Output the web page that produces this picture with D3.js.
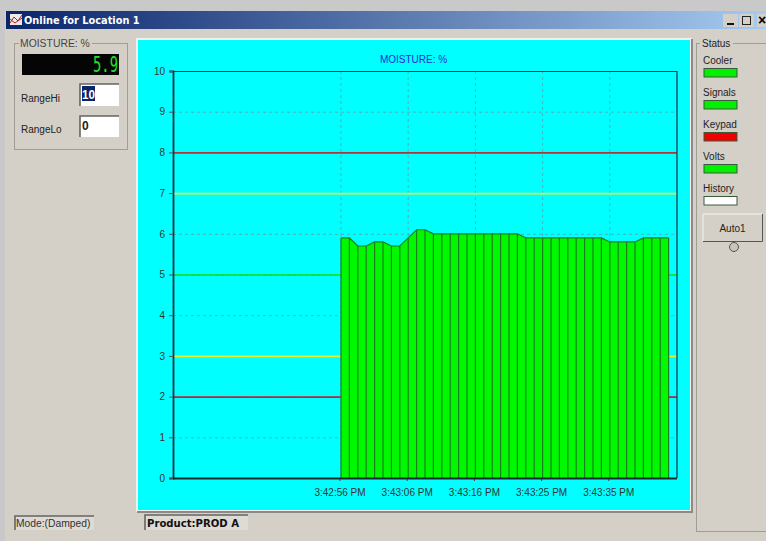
<!DOCTYPE html>
<html><head><meta charset="utf-8">
<script src="https://cdn.jsdelivr.net/npm/d3@7"></script>
<style>
html,body{margin:0;padding:0;background:#d4d0c8;overflow:hidden}
svg{display:block}
text{font-family:"Liberation Sans",Arial,sans-serif}
</style></head><body>
<svg id="c" width="766" height="541"></svg>
<script>
const moisture=[5.9,5.9,5.7,5.7,5.8,5.8,5.7,5.7,5.9,6.1,6.1,6.0,6.0,6.0,6.0,6.0,6.0,6.0,6.0,6.0,6.0,6.0,5.9,5.9,5.9,5.9,5.9,5.9,5.9,5.9,5.9,5.9,5.8,5.8,5.8,5.8,5.9,5.9,5.9,5.9];
const sampleIndex=moisture.map((d,i)=>i);
const timeTickIdx=[0,8,16,24,32];
const timeLabels=["3:42:56 PM","3:43:06 PM","3:43:16 PM","3:43:25 PM","3:43:35 PM"];
const yTicks=[0,1,2,3,4,5,6,7,8,9,10];
const limitValues=[8,7,5,3,2];
const limitColors=["#a83a3a","#d8f448","#10dc10","#e8f028","#c42038"];
const statusNames=["Cooler","Signals","Keypad","Volts","History"];
const statusColors=["#00f000","#00f000","#f00000","#00f000","#ffffff"];

const svg=d3.select("#c");
const defs=svg.append("defs");
const g=defs.append("linearGradient").attr("id","tb");
g.append("stop").attr("offset","0").attr("stop-color","#0a246a");
g.append("stop").attr("offset","1").attr("stop-color","#a6caf0");

function rect(x,y,w,h,f,s){return svg.append("rect").attr("x",x).attr("y",y).attr("width",w).attr("height",h).attr("fill",f).attr("stroke",s||"none");}
function txt(x,y,t,size,col,anchor,extra){const e=svg.append("text").attr("x",x).attr("y",y).attr("font-size",size).attr("fill",col).attr("text-anchor",anchor||"start").text(t);if(extra)extra(e);return e;}
function sunken(x,y,w,h,f){rect(x,y,w,h,f);
  svg.append("path").attr("d",`M${x},${y+h}V${y}H${x+w}`).attr("fill","none").attr("stroke","#666460").attr("stroke-width",1.6);}

// window chrome
rect(0,0,766,11,"#c9c9c9");
rect(0,11,5,530,"#c9c9c9");
rect(5,11,761,530,"#d4d0c8");
rect(6,11,760,18,"url(#tb)");
txt(24,24,"Online for Location 1",9.8,"#fff","start",e=>e.attr("font-weight","bold").style("font-family","'DejaVu Sans'"));
rect(10,14,12,11,"#eee8e8");
svg.append("path").attr("d","M10,23L14,17L18,21L22,15M10,19L15,23L22,18").attr("stroke","#b02020").attr("fill","none");
// window buttons
rect(723,14,15,13,"#d4d0c8");
rect(739,14,15,13,"#d4d0c8");
rect(757,14,9,13,"#d4d0c8");
rect(727,23,7,2,"#111");
rect(742.5,16.5,8,8,"none","#222");
txt(762,25,"×",14,"#000","middle",e=>e.attr("font-weight","bold"));

// left panel
rect(14.5,43.5,113,106,"none","#a09d97");
rect(19,38,73,10,"#d4d0c8");
txt(20,47,"MOISTURE: %",10.4,"#444");
rect(22,54,97,21,"#050505");
txt(93,72,"5.9",22,"#24e024","start",e=>e.style("font-family","'DejaVu Sans Mono'").attr("textLength",25).attr("lengthAdjust","spacingAndGlyphs"));
txt(21,102,"RangeHi",10,"#222");
txt(21,133,"RangeLo",10,"#222");
sunken(80,84,39,22,"#fff");
rect(82,86,13,15,"#0a246a");
txt(82,99,"10",12,"#fff","start",e=>e.attr("font-weight","bold").attr("textLength",13).attr("lengthAdjust","spacingAndGlyphs"));
sunken(80,116,39,21,"#fff");
txt(82,130,"0",12,"#222","start",e=>e.attr("font-weight","bold"));

// chart panel
rect(136,38,556,474,"#f0f0ee");
rect(691,39,2,474,"#8a8a88");rect(137,511,556,2,"#8a8a88");
rect(138,40,552,470,"#00ffff");

const x=d3.scaleLinear().domain([-20,40]).range([173,677]);
const y=d3.scaleLinear().domain([0,10]).range([478,71]);
const chart=svg.append("g");

txt(413.5,63,"MOISTURE: %",10,"#2828d8","middle");

// grid
chart.append("g").selectAll("line").data(yTicks.filter(d=>d>0&&d<10)).join("line")
 .attr("x1",x(-20)).attr("x2",x(40)).attr("y1",d=>y(d)+.5).attr("y2",d=>y(d)+.5)
 .attr("stroke","#6a9a9a").attr("stroke-width",.8).attr("stroke-dasharray","3 3");
chart.append("g").selectAll("line").data(timeTickIdx).join("line")
 .attr("x1",d=>x(d)).attr("x2",d=>x(d)).attr("y1",y(10)).attr("y2",y(0))
 .attr("stroke","#6a9a9a").attr("stroke-width",.8).attr("stroke-dasharray","3 3");

// limit lines
chart.append("g").selectAll("line").data(limitValues).join("line")
 .attr("x1",x(-20)).attr("x2",x(40)).attr("y1",d=>y(d)+.5).attr("y2",d=>y(d)+.5)
 .attr("stroke",(d,i)=>limitColors[i]).attr("stroke-width",1.6);

// area + divider lines
const area=d3.area().x((d,i)=>x(i)).y0(y(0)).y1(d=>y(d));
chart.append("path").datum(moisture).attr("d",area).attr("fill","#00f800");
chart.append("g").selectAll("line").data(sampleIndex).join("line")
 .attr("x1",d=>x(d)).attr("x2",d=>x(d)).attr("y1",d=>y(moisture[d])).attr("y2",y(0))
 .attr("stroke","#1f7f1f").attr("stroke-width",1.2);
chart.append("path").datum(moisture).attr("d",d3.line().x((d,i)=>x(i)).y(d=>y(d))).attr("fill","none").attr("stroke","#1f7f1f").attr("stroke-width",1.2);

// axes
const yAxis=d3.axisLeft(y).tickValues(yTicks).tickSize(4).tickPadding(4).tickFormat(d3.format("d"));
const ya=chart.append("g").attr("transform",`translate(${x(-20)},0)`).call(yAxis);
ya.selectAll("text").attr("font-size",10).attr("fill","#333").style("font-family","'Liberation Sans'");
ya.selectAll("line").attr("stroke","#555");
ya.select(".domain").attr("stroke","#223040").attr("stroke-width",1.8);
const xAxis=d3.axisBottom(x).tickValues(timeTickIdx).tickSize(3).tickPadding(8).tickFormat((d,i)=>timeLabels[i]);
const xa=chart.append("g").attr("transform",`translate(-1.5,${y(0)})`).call(xAxis);
xa.selectAll("text").attr("font-size",10).attr("fill","#333").style("font-family","'Liberation Sans'");
xa.selectAll("line").attr("stroke","#444");
xa.select(".domain").attr("stroke","none");
chart.append("line").attr("x1",x(-20)).attr("x2",x(40)).attr("y1",y(0)+.5).attr("y2",y(0)+.5).attr("stroke","#1a2a2a").attr("stroke-width",1.8);
chart.append("line").attr("x1",x(-20)).attr("x2",x(40)).attr("y1",y(10)+.5).attr("y2",y(10)+.5).attr("stroke","#223040").attr("stroke-width",1.2);
chart.append("line").attr("x1",x(40)).attr("x2",x(40)).attr("y1",y(10)).attr("y2",y(0)).attr("stroke","#223040").attr("stroke-width",1.2);

// status panel
rect(696.5,43.5,75,488,"none","#a09d97");
rect(700,38,33,10,"#d4d0c8");
txt(702,47,"Status",10,"#222");
statusNames.forEach((n,i)=>{
  const yy=64+i*32;
  txt(703,yy,n,10,"#222");
  rect(704,yy+4.5,33,8.5,statusColors[i],"#3a5a3a");
});
rect(703,214,59,27,"#d4d0c8");
svg.append("path").attr("d","M703,241V214H762").attr("fill","none").attr("stroke","#f4f4f0");
svg.append("path").attr("d","M703,241.5H762.5V214").attr("fill","none").attr("stroke","#555");
txt(732.5,232,"Auto1",10,"#222","middle");
svg.append("circle").attr("cx",734).attr("cy",247).attr("r",4.5).attr("fill","#c8c4bc").attr("stroke","#555");

// status bar
sunken(15,516,79,14,"#dedad4");
txt(16,527,"Mode:(Damped)",10.3,"#333");
sunken(145,515,103,15,"#dedad4");
txt(147,527,"Product:PROD A",10.1,"#111","start",e=>e.attr("font-weight","bold").style("font-family","'DejaVu Sans'"));
</script>
</body></html>
